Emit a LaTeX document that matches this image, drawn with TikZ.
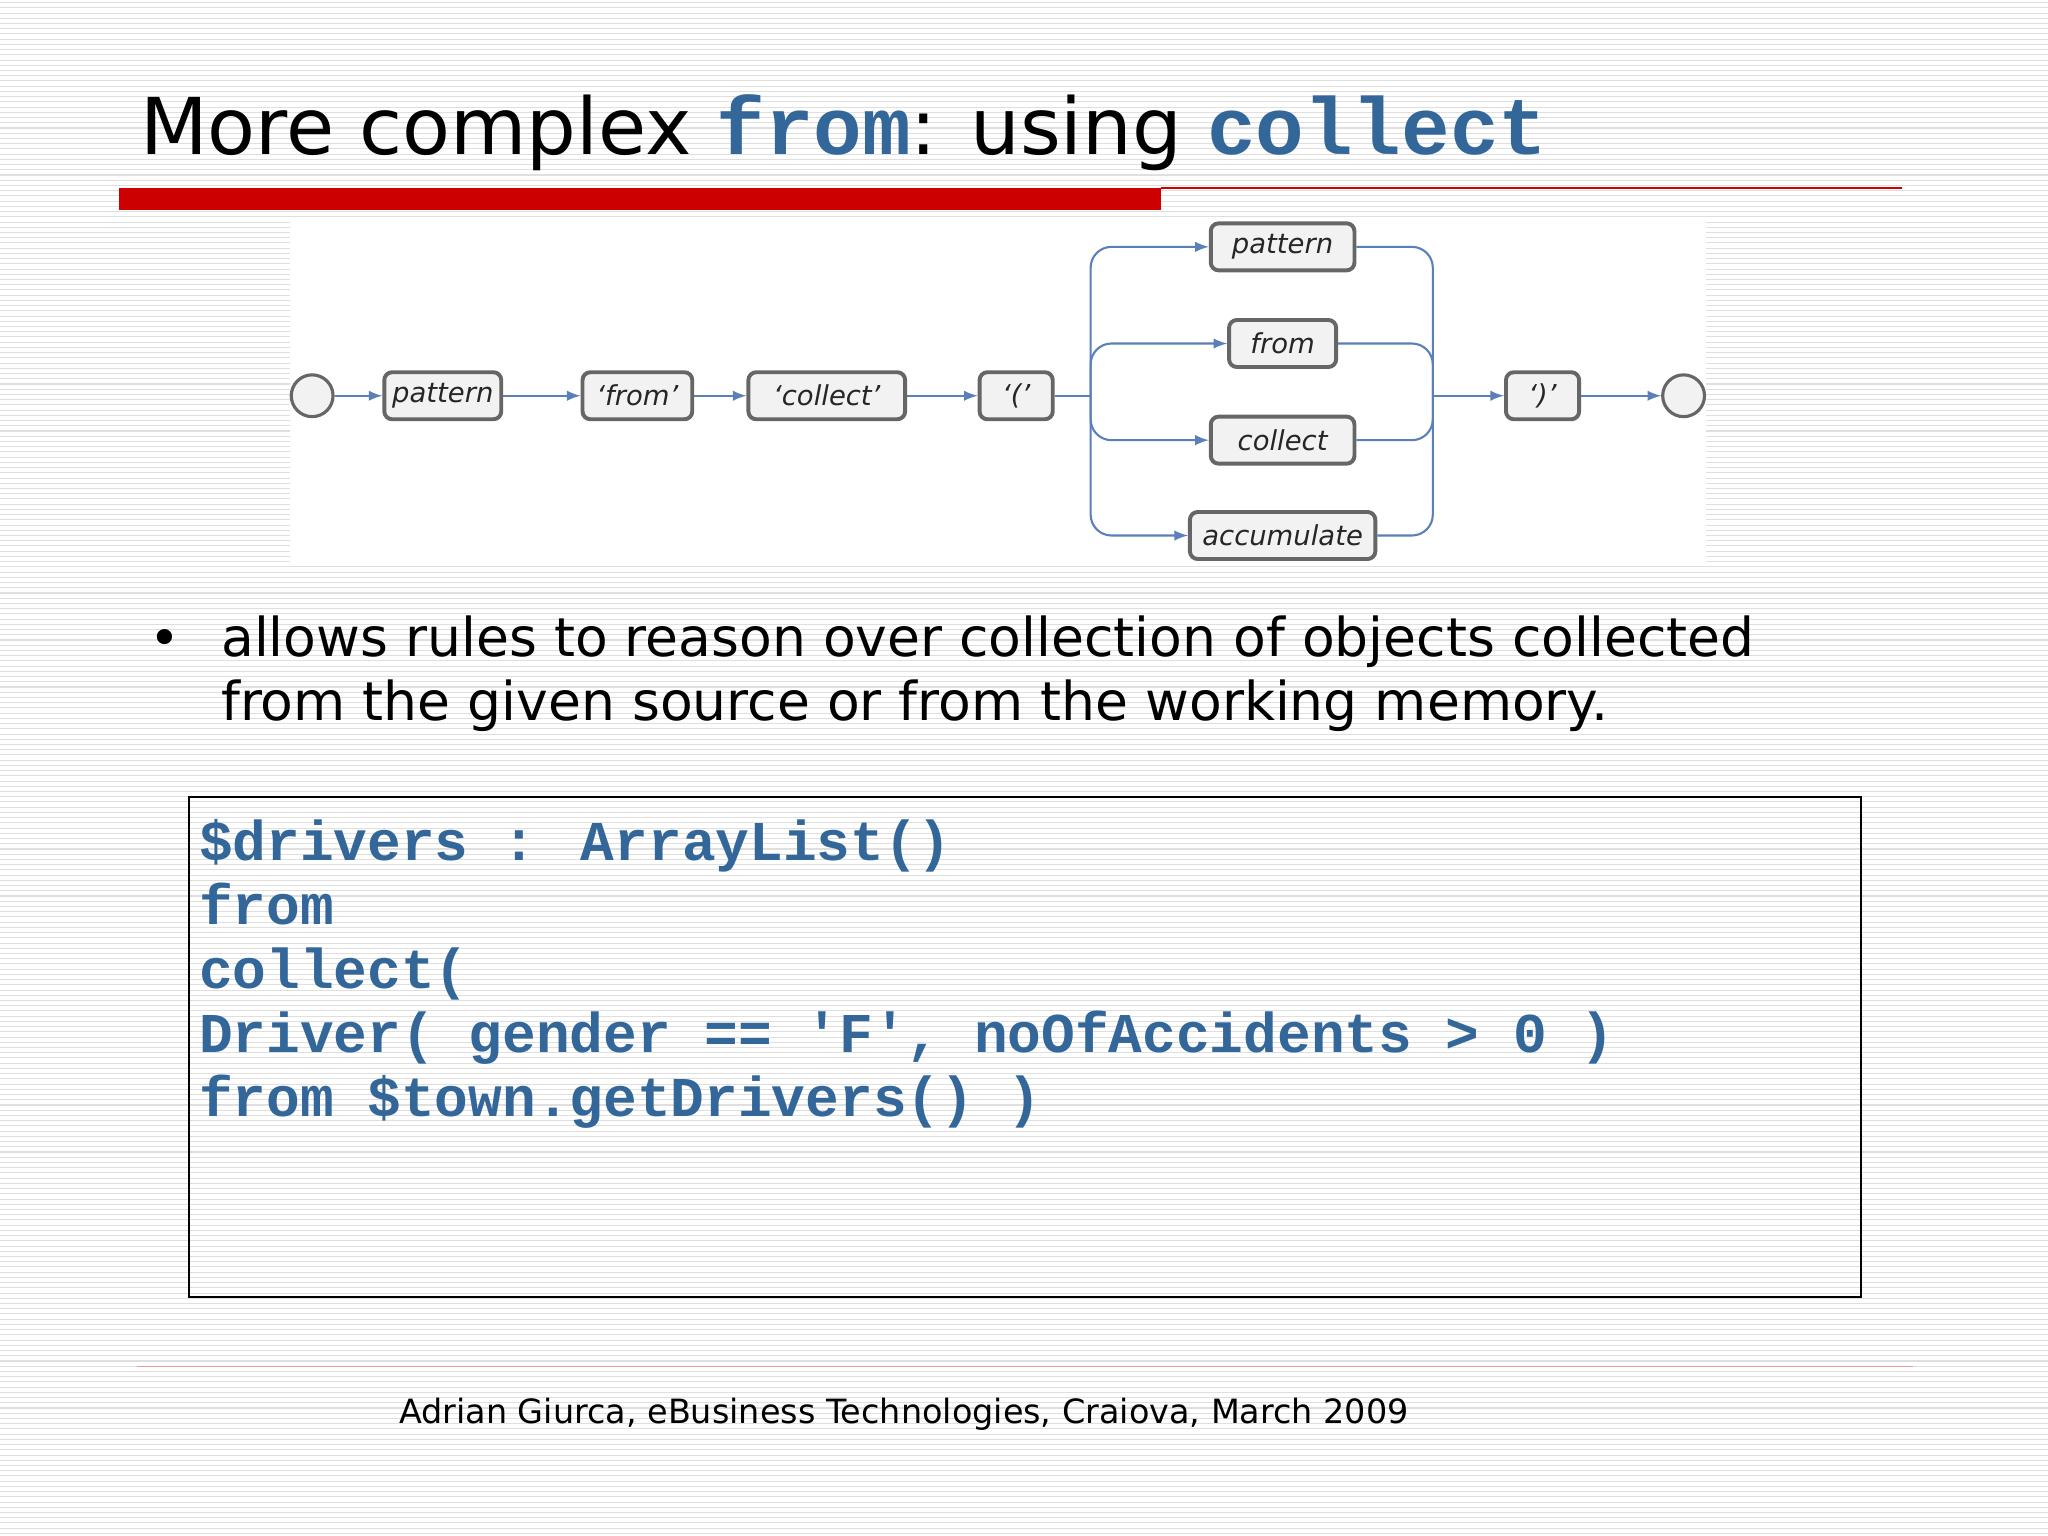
\documentclass[tikz,border=0pt]{standalone}
\usepackage{fontspec}
\setmainfont{DejaVu Sans}
\newfontfamily\codefont{Liberation Mono}
\begin{document}
\definecolor{codeblue}{HTML}{336699}
\definecolor{lineblue}{HTML}{5B7FB8}
\definecolor{barred}{HTML}{CC0000}
\begin{tikzpicture}[x=0.5pt,y=-0.5pt,
  box/.style={draw=gray!80!black,line width=1.5pt,fill=gray!10,rounded corners=3pt,minimum height=18pt,inner xsep=3pt,font=\itshape\fontsize{10.5}{12}\selectfont,text=gray!30!black},
  circ/.style={circle,draw=gray!80!black,line width=1.2pt,fill=gray!10,minimum size=16pt,inner sep=0pt},
  arr/.style={draw=lineblue,line width=0.8pt,-latex},
  ln/.style={draw=lineblue,line width=0.8pt,rounded corners=8pt},
  txt/.style={anchor=base west,inner sep=0pt,font=\fontsize{20.5}{24}\selectfont},
  code/.style={anchor=base west,text=codeblue,font=\codefont\bfseries\fontsize{21.5}{24}\selectfont,inner sep=0pt}]
\useasboundingbox (0,0) rectangle (1568,1176);
\fill[white] (0,0) rectangle (1568,1176);
\foreach \y in {2,6,...,1174} \draw[gray!25,line width=0.4pt] (0,\y) -- (1568,\y);
% title
\node[anchor=base west,inner sep=0pt,font=\fontsize{30}{36}\selectfont] (title) at (107,118)
 {More complex {\codefont\bfseries\color{codeblue}\fontsize{31}{36}\selectfont from}: using {\codefont\bfseries\color{codeblue}\fontsize{31}{36}\selectfont collect}};
\fill[barred] (91,144) rectangle (889,161);
\draw[barred,line width=0.5pt] (889,144) -- (1456,144);
% diagram area
\fill[white] (222,168) rectangle (1306,430);
\node[circ] (s) at (239,303) {};
\node[box,minimum width=42pt] (p) at (339,303) {pattern};
\node[box,minimum width=42pt] (f) at (488,303) {`from'};
\node[box,minimum width=60pt] (c) at (633,303) {`collect'};
\node[box,minimum width=28pt] (lp) at (778,303) {`('};
\node[box,minimum width=55pt] (b1) at (982,189) {pattern};
\node[box,minimum width=41pt] (b2) at (982,263) {from};
\node[box,minimum width=55pt] (b3) at (982,337) {collect};
\node[box,minimum width=71pt] (b4) at (982,410) {accumulate};
\node[box,minimum width=28pt] (rp) at (1181,303) {`)'};
\node[circ] (e) at (1289,303) {};
\draw[arr] (s) -- (p);
\draw[arr] (p) -- (f);
\draw[arr] (f) -- (c);
\draw[arr] (c) -- (lp);
\draw[arr] (rp) -- (e);
\coordinate (sp) at (835,303);
\coordinate (mg) at (1097,303);
\draw[ln] (lp.east) -- (sp);
\foreach \b in {b1,b2,b3,b4}{
  \draw[ln,-latex] (sp) |- (\b.west);
  \draw[ln] (\b.east) -| (mg);
}
\draw[arr] (mg) -- (rp);
% bullet
\node[txt] (bt1) at (169,503) {allows rules to reason over collection of objects collected};
\node[txt] (bt2) at (169,552) {from the given source or from the working memory.};
\node[anchor=base,inner sep=0pt,font=\fontsize{20}{24}\selectfont] (bul) at (126,503) {•};
% code box
\draw[black,line width=0.8pt] (145,610) rectangle (1425,993);
\node[code] (c1) at (152,659) {\$drivers : ArrayList()};
\node[code] (c2) at (152,708) {from};
\node[code] (c3) at (152,757) {collect(};
\node[code] (c4) at (152,806) {Driver( gender == 'F', noOfAccidents > 0 )};
\node[code] (c5) at (152,855) {from \$town.getDrivers() )};
% footer
\draw[barred!40,line width=0.5pt] (105,1046) -- (1465,1046);
\node[anchor=base,inner sep=0pt,font=\fontsize{12.8}{16}\selectfont] (ft) at (692,1090) {Adrian Giurca, eBusiness Technologies, Craiova, March 2009};
\end{tikzpicture}
\end{document}
